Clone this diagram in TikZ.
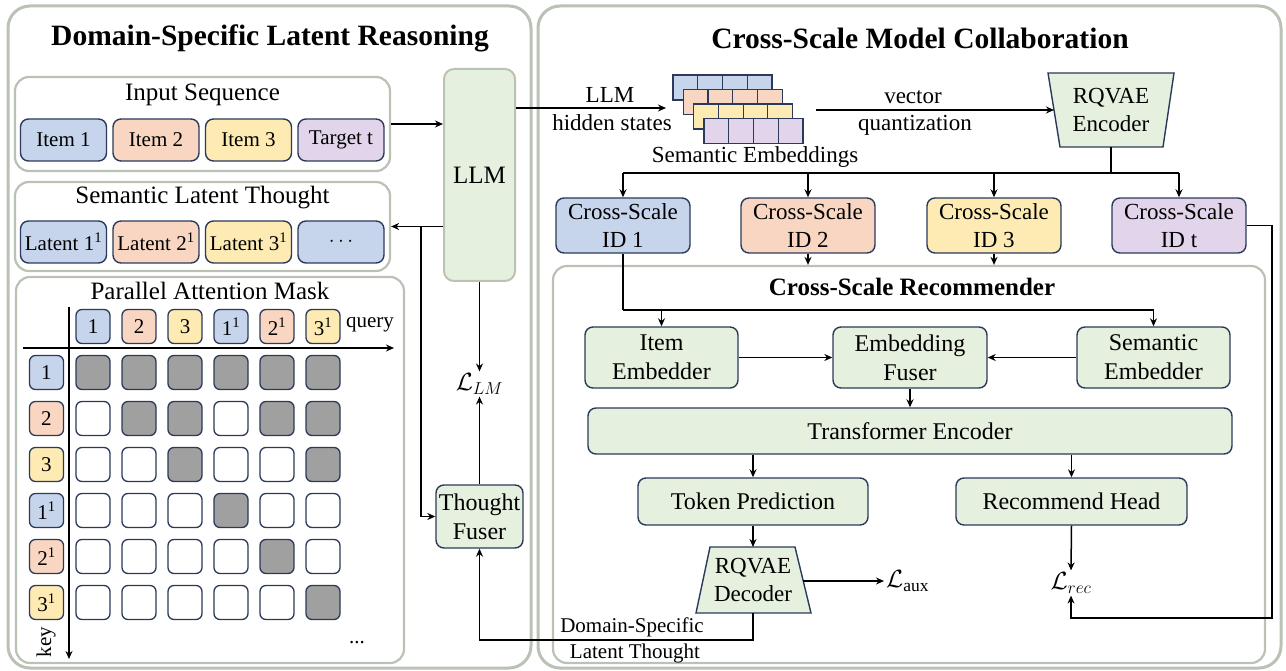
\documentclass[tikz,border=0pt]{standalone}
\usepackage{fontspec}
\setmainfont{Liberation Serif}
\usetikzlibrary{arrows.meta,calc}
\definecolor{blueF}{HTML}{C7D5EC}
\definecolor{orangeF}{HTML}{F8D6C2}
\definecolor{yellowF}{HTML}{FDEBB3}
\definecolor{purpleF}{HTML}{E2D5EB}
\definecolor{greenF}{HTML}{E6F0DF}
\definecolor{navy}{HTML}{2B3A5A}
\definecolor{panelc}{HTML}{B9C2B5}
\definecolor{grayF}{HTML}{A0A0A0}
\begin{document}
\begin{tikzpicture}[x=1pt,y=-1pt,
  outer/.style={draw=panelc, line width=3pt, rounded corners=22pt},
  cont/.style={draw=panelc, line width=2.2pt, rounded corners=14pt, inner sep=0pt},
  cbox/.style={draw=navy, line width=1.4pt, rounded corners=8pt, inner sep=0pt, align=center},
  gbox/.style={cbox, fill=greenF, font=\fontsize{24}{29}\selectfont},
  idbox/.style={cbox, minimum width=134pt, minimum height=55pt, font=\fontsize{23}{28}\selectfont},
  itbox/.style={cbox, minimum width=86pt, minimum height=42pt, font=\fontsize{21}{25}\selectfont},
  cell/.style={draw=navy, line width=1.3pt, rounded corners=6pt, minimum width=34pt, minimum height=34pt, inner sep=0pt, font=\fontsize{21}{25}\selectfont},
  emb/.style={draw=navy, line width=1.2pt},
  conn/.style={line width=1.5pt},
  arr/.style={conn, -{Stealth[length=8pt,width=7pt]}},
  ttl/.style={font=\fontsize{29.5}{33}\selectfont\bfseries},
  sttl/.style={font=\fontsize{25}{29}\selectfont},
  lbl/.style={font=\fontsize{23}{28}\selectfont, inner sep=0pt},
  slbl/.style={font=\fontsize{21}{25}\selectfont, inner sep=0pt},
  loss/.style={font=\fontsize{25}{29}\selectfont, inner sep=2pt}
]
\useasboundingbox (0,0) rectangle (1286,671);

% ---------- panels ----------
\draw[outer] (8,6) rectangle (531,668);
\draw[outer] (538,6) rectangle (1281,668);
\node[ttl] (t1) at (270,38) {Domain-Specific Latent Reasoning};
\node[ttl] (t2) at (920,38) {Cross-Scale Model Collaboration};

% ---------- input sequence ----------
\node[cont, minimum width=375pt, minimum height=94pt] (inbox) at (202.5,124) {};
\node[sttl] (inttl) at (202.5,95) {Input Sequence};
\node[itbox, fill=blueF] (i1) at (63.5,140) {Item 1};
\node[itbox, fill=orangeF] (i2) at (156,140) {Item 2};
\node[itbox, fill=yellowF] (i3) at (248.5,140) {Item 3};
\node[itbox, fill=purpleF] (it) at (341,140) {Target t};

% ---------- semantic latent thought ----------
\node[cont, minimum width=375pt, minimum height=89pt] (latbox) at (202.5,226.5) {};
\node[sttl] (latttl) at (202.5,198) {Semantic Latent Thought};
\node[itbox, fill=blueF] (l1) at (63.5,242) {Latent 1\textsuperscript{1}};
\node[itbox, fill=orangeF] (l2) at (156,242) {Latent 2\textsuperscript{1}};
\node[itbox, fill=yellowF] (l3) at (248.5,242) {Latent 3\textsuperscript{1}};
\node[itbox, fill=blueF] (l4) at (341,242) {$\cdots$};

% ---------- attention mask ----------
\node[cont, minimum width=388pt, minimum height=386pt] (mask) at (210,470) {};
\node[sttl] (maskttl) at (210,291) {Parallel Attention Mask};
\foreach \lab/\colr [count=\c] in {1/blueF,2/orangeF,3/yellowF,1\textsuperscript{1}/blueF,2\textsuperscript{1}/orangeF,3\textsuperscript{1}/yellowF}{
  \node[cell, fill=\colr] (q\c) at ({47+46*\c},326.5) {\lab};
  \node[cell, fill=\colr] (k\c) at (46.5,{326.5+46*\c}) {\lab};
}
\foreach \pat [count=\r] in {{grayF,grayF,grayF,grayF,grayF,grayF},{white,grayF,grayF,white,grayF,grayF},{white,white,grayF,white,white,grayF},{white,white,white,grayF,white,white},{white,white,white,white,grayF,white},{white,white,white,white,white,grayF}}{
  \foreach \colr [count=\c] in \pat {
    \node[cell, fill=\colr] (m\r\c) at ({47+46*\c},{326.5+46*\r}) {};
  }
}
\coordinate (ax0) at (23,348);
\coordinate (ax1) at (394,348);
\coordinate (ay0) at (69,307);
\coordinate (ay1) at (69,659);
\draw[arr] (ax0) -- (ax1);
\draw[arr] (ay0) -- (ay1);
\node[slbl] (query) at (370,325) {query};
\node[slbl, rotate=90] (key) at (46,642) {key};
\node[slbl] (dots) at (357,643) {...};

% ---------- LLM & thought fuser ----------
\node[draw=panelc, line width=2pt, rounded corners=10pt, fill=greenF, minimum width=71pt, minimum height=212pt, font=\fontsize{25}{29}\selectfont] (llm) at (479.5,175) {LLM};
\node[gbox, minimum width=87pt, minimum height=63pt] (tf) at (479.5,516.5) {Thought\\Fuser};
\node[loss] (lm) at (479.5,384) {$\mathcal{L}_{LM}$};

\draw[arr] (inbox.east) -- (inbox.east -| llm.west);
\draw[arr] (llm.west |- latbox.east) -- (latbox.east);
\coordinate (br) at (421,226.5);
\draw[arr] (br) |- (tf.west);
\draw[arr] (llm.south) -- (lm.north);
\draw[arr] (tf.north) -- (lm.south);

% ---------- semantic embeddings ----------
\foreach \k/\colr in {0/blueF,1/orangeF,2/yellowF,3/purpleF}{
  \foreach \j in {0,...,3}{
    \draw[emb, fill=\colr] ({673+10.3*\k+24.75*\j},{75+14.5*\k}) rectangle ++(24.75,25);
  }
}
\node[lbl] (semlbl) at (755,157) {Semantic Embeddings};
\coordinate (hs) at (666,108);
\draw[arr] (llm.east |- hs) -- (hs);
\node[lbl] (hs1) at (610,95) {LLM};
\node[lbl] (hs2) at (612,123) {hidden states};

% ---------- RQVAE encoder ----------
\draw[fill=greenF, draw=navy, line width=1.4pt] (1048,73) -- (1174,73) -- (1163,147) -- (1060,147) -- cycle;
\node[lbl, align=center] (enc) at (1111,110) {RQVAE\\Encoder};
\coordinate (embR) at (816,110);
\coordinate (encW) at (1054,110);
\draw[arr] (embR) -- (encW);
\node[lbl] (vq1) at (913,97) {vector};
\node[lbl] (vq2) at (915,125) {quantization};

% ---------- IDs ----------
\node[idbox, fill=blueF] (id1) at (623,225.5) {Cross-Scale\\ID 1};
\node[idbox, fill=orangeF] (id2) at (808,225.5) {Cross-Scale\\ID 2};
\node[idbox, fill=yellowF] (id3) at (994,225.5) {Cross-Scale\\ID 3};
\node[idbox, fill=purpleF] (idt) at (1179,225.5) {Cross-Scale\\ID t};
\coordinate (encS) at (1111,147);
\coordinate (bus) at (1111,173);
\draw[conn] (encS) -- (bus);
\draw[conn] (id1.north |- bus) -- (idt.north |- bus);
\foreach \n in {id1,id2,id3,idt}{\draw[arr] (\n.north |- bus) -- (\n.north);}

% ---------- recommender ----------
\node[cont, minimum width=712pt, minimum height=397pt] (rec) at (909,464.5) {};
\node[font=\fontsize{25}{29}\selectfont\bfseries] (recttl) at (912,287) {Cross-Scale Recommender};
\draw[arr] (id2.south) -- (id2.south |- rec.north);
\draw[arr] (id3.south) -- (id3.south |- rec.north);

\node[gbox, minimum width=153pt, minimum height=61pt] (ie) at (661.5,357.5) {Item\\Embedder};
\node[gbox, minimum width=154pt, minimum height=61pt] (ef) at (910,357.5) {Embedding\\Fuser};
\node[gbox, minimum width=153pt, minimum height=61pt] (se) at (1153.5,357.5) {Semantic\\Embedder};
\node[gbox, minimum width=644pt, minimum height=46pt] (te) at (910,431) {Transformer Encoder};
\node[gbox, minimum width=230pt, minimum height=47pt] (tp) at (753,501.5) {Token Prediction};
\node[gbox, minimum width=231pt, minimum height=47pt] (rh) at (1071.5,501.5) {Recommend Head};

\coordinate (b2) at (623,310);
\draw[conn] (id1.south) -- (b2);
\draw[arr] (b2) -| (se.north);
\draw[arr] (ie.north |- b2) -- (ie.north);
\draw[arr] (ie.east) -- (ef.west);
\draw[arr] (se.west) -- (ef.east);
\draw[arr] (ef.south) -- (ef.south |- te.north);
\draw[arr] (te.south -| tp.north) -- (tp.north);
\draw[arr] (te.south -| rh.north) -- (rh.north);

% ---------- RQVAE decoder ----------
\draw[fill=greenF, draw=navy, line width=1.4pt] (710,547) -- (795,547) -- (811,613) -- (696,613) -- cycle;
\node[lbl, align=center] (dec) at (753,580) {RQVAE\\Decoder};
\coordinate (decN) at (753,547);
\coordinate (decE) at (803,581);
\coordinate (decS) at (753,613);
\draw[arr] (tp.south) -- (decN);
\node[loss, anchor=west] (aux) at (884,581) {$\mathcal{L}_{\mathrm{aux}}$};
\draw[arr] (decE) -- (aux.west);
\node[loss] (lrec) at (1071,583) {$\mathcal{L}_{rec}$};
\draw[arr] (rh.south) -- (lrec.north);
\coordinate (c1) at (1272,618);
\draw[arr] (idt.east) -| (c1) -| (lrec.south);
\coordinate (c2) at (753,640);
\draw[arr] (decS) -- (c2) -| (tf.south);
\node[slbl] (dsl1) at (632,627) {Domain-Specific};
\node[slbl] (dsl2) at (635,653) {Latent Thought};
\end{tikzpicture}
\end{document}
